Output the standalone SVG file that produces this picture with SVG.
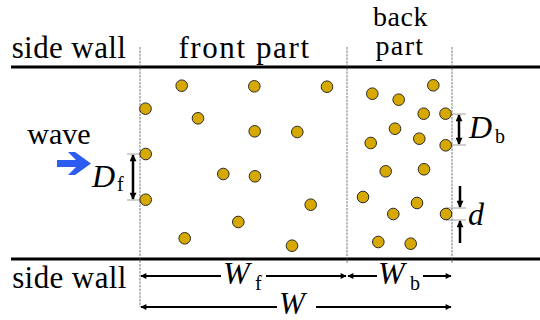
<svg xmlns="http://www.w3.org/2000/svg" width="540" height="320" viewBox="0 0 540 320">
<defs>
<marker id="ah" viewBox="0 0 10 10" refX="9" refY="5" markerWidth="9" markerHeight="6" markerUnits="userSpaceOnUse" orient="auto-start-reverse">
<path d="M0,0 L10,5 L0,10 z" fill="#000"/>
</marker>
<marker id="av" viewBox="0 0 10 10" refX="9" refY="5" markerWidth="9" markerHeight="7" markerUnits="userSpaceOnUse" orient="auto-start-reverse">
<path d="M0,0 L10,5 L0,10 z" fill="#000"/>
</marker>
</defs>
<rect width="540" height="320" fill="#fff"/>

<g id="walls" stroke="#000" stroke-width="3">
<line x1="11" y1="67" x2="540" y2="67"/>
<line x1="11" y1="259" x2="540" y2="259"/>
</g>

<g id="guides" stroke="#555" stroke-width="0.8" stroke-dasharray="2.5,1">
<line x1="140" y1="47" x2="140" y2="307"/>
<line x1="347" y1="47" x2="347" y2="264"/>
<line x1="452" y1="47" x2="452" y2="264"/>
</g>
<g id="ticks" stroke="#888" stroke-width="0.8">
<line x1="127" y1="154" x2="146" y2="154"/>
<line x1="127" y1="200" x2="146" y2="200"/>
<line x1="446" y1="114" x2="466" y2="114"/>
<line x1="446" y1="145" x2="466" y2="145"/>
<line x1="446" y1="208" x2="466" y2="208"/>
<line x1="446" y1="220" x2="466" y2="220"/>
</g>

<text x="69" y="58" font-size="31" font-family="Liberation Serif" text-anchor="middle" letter-spacing="0.4">side wall</text>
<text x="244.5" y="58" font-size="31" font-family="Liberation Serif" text-anchor="middle" letter-spacing="1.6">front part</text>
<text x="400.5" y="26" font-size="28" font-family="Liberation Serif" text-anchor="middle" letter-spacing="0.5">back</text>
<text x="400" y="55" font-size="28" font-family="Liberation Serif" text-anchor="middle" letter-spacing="1.4">part</text>
<text x="59" y="144" font-size="30" font-family="Liberation Serif" text-anchor="middle">wave</text>
<text x="69.5" y="288" font-size="31" font-family="Liberation Serif" text-anchor="middle" letter-spacing="0.4">side wall</text>

<g id="wave-arrow">
<path d="M57,160 L76,160 L68,152 L75,152 L91,163.5 L75,175 L68,175 L76,167 L57,167 z" fill="#2D5CF0"/>
</g>

<g id="cylinders-front" fill="#D7A800" stroke="#2a2a2a" stroke-width="1">
<circle cx="181.7" cy="85.7" r="5.8"/>
<circle cx="254.3" cy="86.3" r="5.8"/>
<circle cx="327" cy="86.7" r="5.8"/>
<circle cx="145.5" cy="108.7" r="5.8"/>
<circle cx="198" cy="118.3" r="5.8"/>
<circle cx="254.7" cy="131.3" r="5.8"/>
<circle cx="297.3" cy="132" r="5.8"/>
<circle cx="145.7" cy="154" r="5.8"/>
<circle cx="223.3" cy="174" r="5.8"/>
<circle cx="255" cy="176.3" r="5.8"/>
<circle cx="145.7" cy="199.7" r="5.8"/>
<circle cx="310.7" cy="204.7" r="5.8"/>
<circle cx="238.3" cy="222" r="5.8"/>
<circle cx="184.7" cy="238.3" r="5.8"/>
<circle cx="292" cy="245.7" r="5.8"/>
</g>

<g id="cylinders-back" fill="#D7A800" stroke="#2a2a2a" stroke-width="1">
<circle cx="433.3" cy="85.3" r="5.8"/>
<circle cx="372.3" cy="93.7" r="5.8"/>
<circle cx="398.7" cy="99.7" r="5.8"/>
<circle cx="423.7" cy="113.7" r="5.8"/>
<circle cx="445.5" cy="113.7" r="5.8"/>
<circle cx="395" cy="128.7" r="5.8"/>
<circle cx="419.3" cy="138.7" r="5.8"/>
<circle cx="370.7" cy="143" r="5.8"/>
<circle cx="445.7" cy="145.3" r="5.8"/>
<circle cx="385.7" cy="171.3" r="5.8"/>
<circle cx="424" cy="169.3" r="5.8"/>
<circle cx="363" cy="197" r="5.8"/>
<circle cx="417" cy="203" r="5.8"/>
<circle cx="393.3" cy="214" r="5.8"/>
<circle cx="446" cy="214" r="5.8"/>
<circle cx="378.3" cy="242" r="5.8"/>
<circle cx="410.7" cy="243.7" r="5.8"/>
</g>

<g id="connectors" stroke="#000" fill="none">
<line stroke-width="2.5" x1="133" y1="155" x2="133" y2="199" marker-start="url(#av)" marker-end="url(#av)"/>
<line stroke-width="2.5" x1="459" y1="115" x2="459" y2="144" marker-start="url(#av)" marker-end="url(#av)"/>
<line stroke-width="2.5" x1="460" y1="186" x2="460" y2="207" marker-end="url(#av)"/>
<line stroke-width="2.5" x1="460" y1="243" x2="460" y2="221" marker-end="url(#av)"/>
<line stroke-width="2" x1="221" y1="276" x2="141" y2="276" marker-end="url(#ah)"/>
<line stroke-width="2" x1="266" y1="276" x2="346" y2="276" marker-end="url(#ah)"/>
<line stroke-width="2" x1="377" y1="276" x2="348" y2="276" marker-end="url(#ah)"/>
<line stroke-width="2" x1="423" y1="276" x2="451" y2="276" marker-end="url(#ah)"/>
<line stroke-width="2" x1="277" y1="307" x2="141" y2="307" marker-end="url(#ah)"/>
<line stroke-width="2" x1="316" y1="307" x2="451" y2="307" marker-end="url(#ah)"/>
</g>

<text x="92" y="187" font-size="32" font-family="Liberation Serif" font-style="italic">D</text>
<text x="117" y="191" font-size="20" font-family="Liberation Serif">f</text>
<text x="469" y="138" font-size="32" font-family="Liberation Serif" font-style="italic">D</text>
<text x="495" y="143" font-size="20" font-family="Liberation Serif">b</text>
<text x="468" y="225" font-size="32" font-family="Liberation Serif" font-style="italic">d</text>
<text x="223" y="284" font-size="32" font-family="Liberation Serif" font-style="italic">W</text>
<text x="255" y="290" font-size="20" font-family="Liberation Serif">f</text>
<text x="378" y="284" font-size="32" font-family="Liberation Serif" font-style="italic">W</text>
<text x="410" y="290" font-size="20" font-family="Liberation Serif">b</text>
<text x="279" y="314" font-size="31" font-family="Liberation Serif" font-style="italic">W</text>
</svg>
